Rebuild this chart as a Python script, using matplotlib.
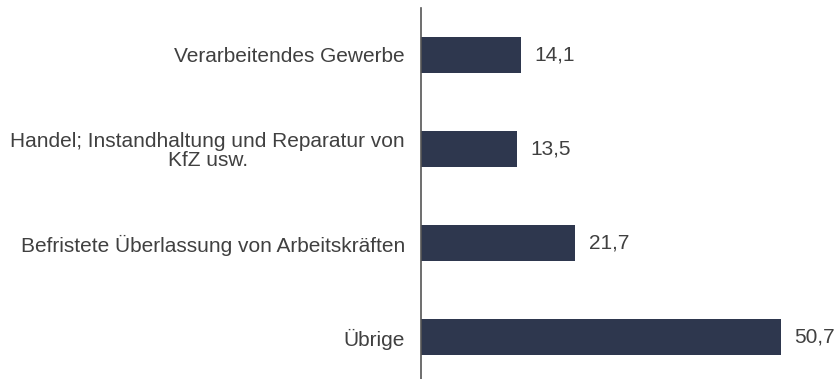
import matplotlib
matplotlib.use("Agg")
import matplotlib.pyplot as plt

categories = [
    "Verarbeitendes Gewerbe",
    "Handel; Instandhaltung und Reparatur von\nKfZ usw.",
    "Befristete Überlassung von Arbeitskräften",
    "Übrige",
]
values = [14.1, 13.5, 21.7, 50.7]
value_labels = ["14,1", "13,5", "21,7", "50,7"]

plt.rcParams["font.family"] = ["Liberation Sans", "DejaVu Sans"]

W, H = 839, 379
fig = plt.figure(figsize=(W / 100, H / 100), dpi=100)
ax = fig.add_axes([421 / W, 0, (W - 421) / W, (H - 8) / H])

bar_color = "#2e374e"
text_color = "#404040"

pos = list(range(len(categories)))
ax.barh(pos, values, height=0.385, color=bar_color)
ax.set_xlim(0, 58.95)
ax.set_ylim(3.447, -0.5)

for p, v, lab in zip(pos, values, value_labels):
    ax.annotate(lab, (v, p), xytext=(10, 0), textcoords="offset points",
                va="center", ha="left", fontsize=15, color=text_color)

ax.set_yticks(pos)
ax.set_yticklabels(categories, fontsize=15, color=text_color)
for t in ax.get_yticklabels():
    t.set_multialignment("center")
    t.set_linespacing(1.0)
ax.tick_params(axis="y", length=0, pad=11.5)
ax.set_xticks([])

for s in ["top", "right", "bottom"]:
    ax.spines[s].set_visible(False)
ax.spines["left"].set_color("#555555")
ax.spines["left"].set_linewidth(1.2)

fig.savefig("out.png", dpi=100)
